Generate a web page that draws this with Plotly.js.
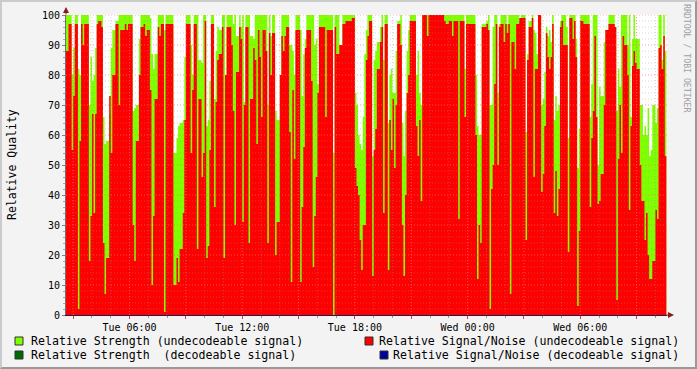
<!DOCTYPE html>
<html>
<head>
<meta charset="utf-8">
<script src="https://cdn.plot.ly/plotly-3.0.1.min.js"></script>
<style>
  html, body { margin: 0; padding: 0; background: #f3f3f3; }
  #wrap { position: relative; width: 697px; height: 369px; }
  #chart { position: absolute; left: 0; top: 0; width: 697px; height: 369px; }
  #frame { position: absolute; left: 0; top: 0; width: 697px; height: 369px; box-sizing: border-box;
           border-top: 2px solid #cbcbcb; border-left: 2px solid #cbcbcb;
           border-right: 2px solid #999999; border-bottom: 2px solid #999999; pointer-events: none; }
</style>
</head>
<body>
<div id="wrap"><div id="chart"></div><div id="frame"></div></div>
<script>
// minutes after Tue 00:00 (5-minute samples)
const timesMin = [155,165,175,180,185,195,200,205,210,215,230,235,240,245,250,255,260,270,275,280,285,295,300,305,315,325,330,345,350,355,370,375,380,390,395,405,410,415,425,430,435,440,450,455,460,470,475,500,510,515,520,530,535,540,555,560,565,575,580,590,595,600,605,610,615,620,630,635,640,645,655,660,665,670,685,690,695,700,710,715,720,725,730,740,745,755,760,765,770,775,780,785,795,800,805,810,815,825,830,840,845,850,855,860,870,875,880,885,890,905,910,915,920,925,940,945,950,955,960,965,985,990,1010,1015,1020,1030,1040,1050,1070,1080,1085,1090,1095,1100,1105,1110,1115,1120,1125,1135,1140,1145,1150,1160,1165,1170,1175,1185,1190,1195,1200,1205,1210,1215,1225,1230,1235,1240,1245,1250,1255,1275,1280,1285,1290,1295,1310,1315,1365,1370,1380,1390,1395,1410,1415,1430,1435,1465,1470,1475,1480,1485,1500,1505,1510,1515,1520,1525,1530,1535,1540,1545,1555,1560,1565,1570,1575,1580,1590,1595,1605,1610,1625,1630,1635,1645,1650,1655,1660,1665,1675,1680,1685,1690,1695,1700,1705,1710,1715,1720,1725,1730,1735,1740,1745,1755,1760,1765,1775,1780,1785,1790,1795,1800,1810,1830,1835,1840,1845,1850,1855,1860,1865,1875,1880,1890,1910,1915,1920,1925,1930,1935,1940,1950,1955,1960,1965,1970,1975,1980,1990,1995,2000,2005,2010,2015,2020,2025,2030,2040,2045,2050,2055,2060,2065,2070,2075];

// Relative Strength (undecodeable signal)
const strength = [100,100,80,89,100,82,80,100,100,100,70,86,78,80,89,100,100,100,66,57,58,67,89,95,98,100,100,100,100,100,68,69,70,92,100,100,100,100,99,87,82,87,100,100,100,95,100,54,59,63,64,65,86,100,90,80,100,100,85,84,100,100,63,65,78,100,72,88,96,95,100,100,80,100,100,97,100,93,100,96,100,71,100,100,93,92,100,100,100,100,100,100,100,70,100,93,100,68,65,80,100,100,100,100,90,90,88,80,100,95,73,87,92,100,100,100,90,92,77,100,100,100,54,100,100,90,100,100,100,74,70,60,57,55,66,87,95,100,100,53,85,88,91,96,100,85,100,64,80,82,74,74,88,98,100,64,53,68,88,95,100,80,88,74,70,100,100,100,100,100,100,100,100,100,100,82,100,80,63,60,60,97,98,100,70,70,96,100,100,74,97,100,100,100,97,100,100,100,100,100,98,100,61,87,98,100,95,94,87,100,70,72,81,96,93,95,91,100,65,73,68,70,98,100,100,96,59,100,100,100,92,49,62,100,100,66,77,100,100,100,50,76,73,91,95,100,96,68,82,76,100,100,100,90,100,66,92,100,92,92,70,70,60,63,60,69,53,55,70,64,69,100,100,85,100,88,88];

// Relative Signal/Noise (undecodeable signal)
const sigNoise = [88,97,55,73,97,2,58,97,90,97,18,33,67,34,67,97,98,96,24,7,19,73,54,80,97,70,95,97,95,97,30,18,58,80,96,97,93,95,75,10,33,72,96,93,97,1,97,10,19,11,22,34,65,97,54,75,97,22,72,46,54,98,19,23,55,97,36,71,85,87,96,19,80,96,90,68,30,81,96,92,31,70,96,24,72,89,85,57,95,86,66,95,88,24,94,80,94,20,31,80,93,88,93,96,61,11,75,52,95,11,36,56,89,95,78,16,33,46,74,96,66,95,0,96,87,90,97,98,99,49,43,40,25,15,30,30,85,93,98,13,55,62,82,91,96,34,97,15,65,55,72,49,70,97,90,30,13,40,74,80,98,63,53,65,38,100,93,100,98,97,98,93,98,32,98,66,97,60,12,30,24,96,97,95,2,42,50,77,97,50,96,97,91,97,94,97,7,91,82,97,99,99,25,85,96,99,46,82,82,100,41,47,63,94,86,82,86,97,34,48,33,42,96,98,90,90,21,99,92,98,86,3,28,98,97,36,59,68,93,66,37,38,47,70,95,97,96,5,52,70,54,93,90,80,35,63,83,88,84,82,50,38,38,25,34,20,12,12,18,35,32,89,90,82,93,53,53];

const legendLeft = ['Relative Strength (undecodeable signal)', 'Relative Strength  (decodeable signal)'];
const legendRight = ['Relative Signal/Noise (undecodeable signal)', 'Relative Signal/Noise (decodeable signal)'];
const legendLeftColors = ['#7fff00', '#006a00'];
const legendRightColors = ['#ff0000', '#00009c'];

function toDate(m) {
  const d = new Date(Date.UTC(2008, 0, 1, 0, 0) + m * 60000);
  return d.toISOString().slice(0, 16).replace('T', ' ');
}
const times = timesMin.map(toDate);

const L = 66, T = 15, W = 601, H = 300;
const px2x = p => (p - L) / W;
const py2y = p => (T + H - p) / H;

const traces = [
  { x: times, y: strength, type: 'scatter', mode: 'lines', fill: 'tozeroy',
    line: { width: 0, shape: 'hv', color: '#7fff00' }, fillcolor: '#7fff00', hoverinfo: 'skip' },
  { x: times, y: sigNoise, type: 'scatter', mode: 'lines', fill: 'tozeroy',
    line: { width: 0, shape: 'hv', color: '#ff0000' }, fillcolor: '#ff0000', hoverinfo: 'skip' }
];

// axis ticks
const tickvals = [], ticktext = [];
for (let h = 3; h <= 33; h += 3) {
  tickvals.push(toDate(h * 60));
  if (h % 6 === 0) {
    const day = h < 24 ? 'Tue' : 'Wed';
    const hh = String(h % 24).padStart(2, '0');
    ticktext.push(day + ' ' + hh + ':00');
  } else ticktext.push('');
}

// grid drawn above the areas, like rrdtool
const shapes = [];
const minorC = 'rgba(150,150,150,0.4)', majorC = 'rgba(255,110,110,0.7)';
for (let v = 2; v <= 100; v += 2) {
  const major = v % 10 === 0;
  shapes.push({ type: 'line', xref: 'paper', yref: 'y', x0: 0, x1: 1, y0: v, y1: v, layer: 'above',
    line: { color: major ? majorC : minorC, width: 1, dash: '1px,2px' } });
}
for (let h = 3; h <= 34; h++) {
  const major = h % 3 === 0;
  shapes.push({ type: 'line', xref: 'x', yref: 'paper', x0: toDate(h * 60), x1: toDate(h * 60), y0: 0, y1: 1, layer: 'above',
    line: { color: major ? majorC : minorC, width: 1, dash: '1px,2px' } });
}

// legend swatches & texts
const annotations = [];
const rowsY = [341, 355];
for (let i = 0; i < 2; i++) {
  const y = rowsY[i];
  const lx = 15, rx = i === 0 ? 365 : 380;
  shapes.push({ type: 'rect', xref: 'paper', yref: 'paper', x0: px2x(lx), x1: px2x(lx + 8), y0: py2y(y - 4), y1: py2y(y + 4),
    fillcolor: legendLeftColors[i], line: { color: '#303030', width: 1 } });
  shapes.push({ type: 'rect', xref: 'paper', yref: 'paper', x0: px2x(rx), x1: px2x(rx + 8), y0: py2y(y - 4), y1: py2y(y + 4),
    fillcolor: legendRightColors[i], line: { color: '#303030', width: 1 } });
  annotations.push({ xref: 'paper', yref: 'paper', x: px2x(29), y: py2y(y), xanchor: 'left', yanchor: 'middle',
    text: legendLeft[i].replace(/ /g, '&nbsp;'), showarrow: false, font: { size: 11.6, color: '#000' } });
  annotations.push({ xref: 'paper', yref: 'paper', x: px2x(681), y: py2y(y), xanchor: 'right', yanchor: 'middle',
    text: legendRight[i].replace(/ /g, '&nbsp;'), showarrow: false, font: { size: 11.6, color: '#000' } });
}
annotations.push({ xref: 'paper', yref: 'paper', x: px2x(12), y: py2y(165), xanchor: 'center', yanchor: 'middle',
  text: 'Relative Quality', textangle: -90, showarrow: false, font: { size: 11.5, color: '#000' } });
annotations.push({ xref: 'paper', yref: 'paper', x: px2x(687), y: py2y(58), xanchor: 'center', yanchor: 'middle',
  text: 'RRDTOOL / TOBI OETIKER', textangle: 90, showarrow: false, font: { size: 8.2, color: '#a0a0a0' } });
// axis arrows
annotations.push({ xref: 'paper', yref: 'paper', x: 0, y: py2y(7), ax: 0, ay: 9, text: '', showarrow: true,
  arrowhead: 2, arrowsize: 1.2, arrowwidth: 1, arrowcolor: '#8b1a1a' });
annotations.push({ xref: 'paper', yref: 'paper', x: px2x(674), y: 0, ax: -9, ay: 0, text: '', showarrow: true,
  arrowhead: 2, arrowsize: 1.2, arrowwidth: 1, arrowcolor: '#8b1a1a' });

const layout = {
  width: 697, height: 369,
  margin: { l: L, r: 697 - L - W, t: T, b: 369 - T - H, pad: 0 },
  paper_bgcolor: '#f3f3f3', plot_bgcolor: '#ffffff',
  font: { family: 'DejaVu Sans Mono, monospace', color: '#000' },
  showlegend: false,
  xaxis: {
    type: 'date', range: [toDate(157), toDate(2077)],
    tickmode: 'array', tickvals: tickvals, ticktext: ticktext,
    ticks: 'outside', ticklen: 3, tickcolor: '#d04040', tickfont: { size: 10, color: '#000' },
    showgrid: false, zeroline: false, showline: true, linecolor: '#1c1c5c', linewidth: 1,
    minor: { ticks: 'outside', ticklen: 2, dtick: 3600000, tick0: toDate(0), tickcolor: '#999', showgrid: false },
    fixedrange: true
  },
  yaxis: {
    range: [0, 100], tickmode: 'linear', tick0: 0, dtick: 10,
    ticks: 'outside', ticklen: 3, tickcolor: '#808080', tickfont: { size: 10, color: '#000' },
    showgrid: false, zeroline: false, showline: true, linecolor: '#707070', linewidth: 1,
    minor: { ticks: 'outside', ticklen: 2, dtick: 2, tickcolor: '#aaa', showgrid: false },
    fixedrange: true
  },
  shapes: shapes,
  annotations: annotations
};

Plotly.newPlot('chart', traces, layout, { staticPlot: true, displayModeBar: false });
</script>
</body>
</html>
